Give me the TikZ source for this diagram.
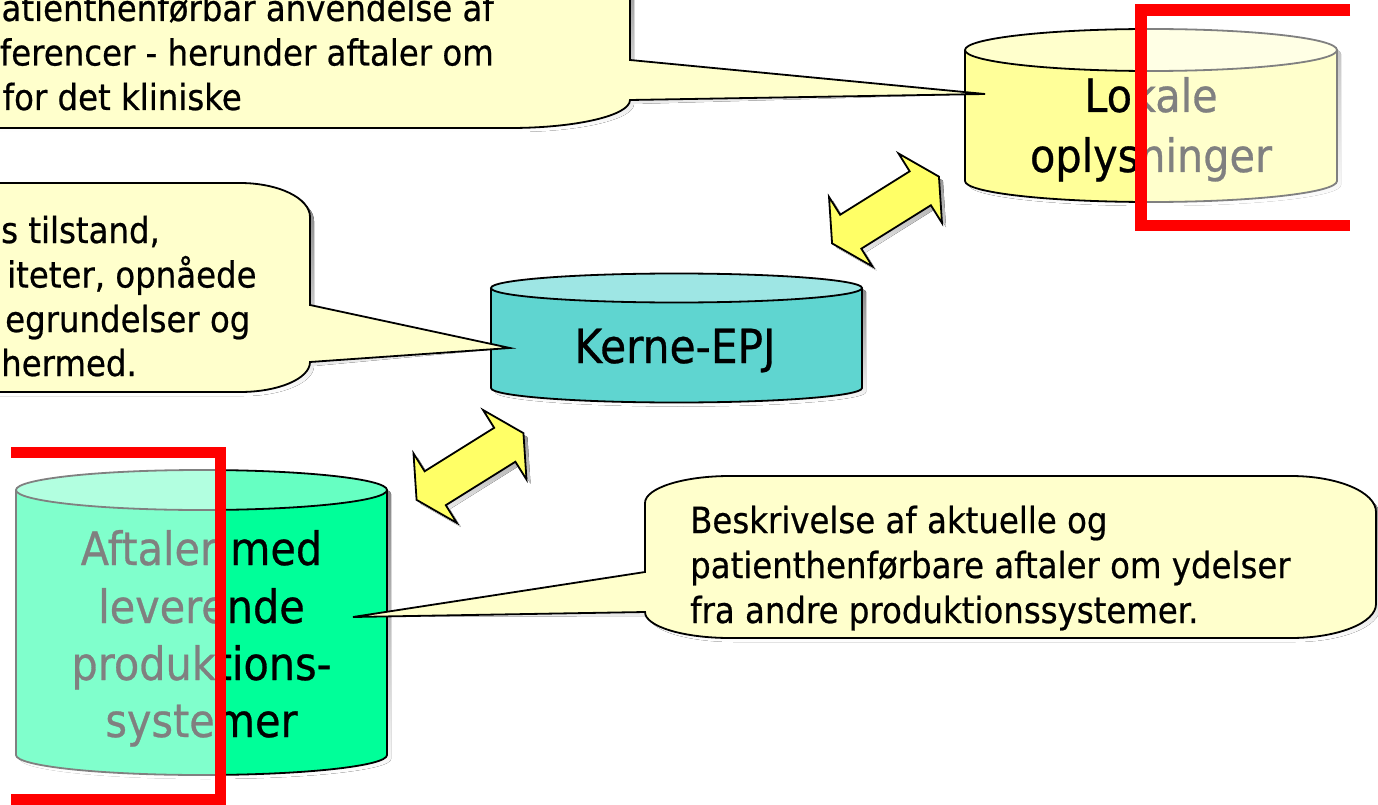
\documentclass[tikz,border=0pt]{standalone}
\usepackage{fontspec}
\setmainfont{DejaVu Sans}[FakeStretch=0.9, FakeBold=0.6]

\definecolor{note}{HTML}{FFFFCC}
\definecolor{lokbody}{HTML}{FFFF99}
\definecolor{loktop}{HTML}{FFFFCC}
\definecolor{kerbody}{HTML}{5FD5D0}
\definecolor{kertop}{HTML}{9EE6E4}
\definecolor{aftbody}{HTML}{00FF99}
\definecolor{afttop}{HTML}{66FFC2}
\definecolor{arrowyellow}{HTML}{FFFF66}
\definecolor{shade}{HTML}{808080}
\definecolor{bracketred}{HTML}{FF0000}

\tikzset{
  outline/.style={draw=black, line width=1.8pt, line join=miter},
  notetext/.style={font=\fontsize{36}{44.5}\selectfont, inner sep=0pt},
  drumtext/.style={font=\fontsize{46}{57}\selectfont, inner sep=0pt, anchor=base},
  fade/.style={fill=white, fill opacity=0.5},
  bracket/.style={draw=bracketred, line width=11.5pt, line cap=butt, line join=miter},
}

% database drum: left x, right x, top centre y, bottom centre y, x radius, y radius, body, lid
\newcommand\drum[8]{%
  \begin{scope}[shift={(4,4)}]
    \fill[shade] (#1,#3) arc[start angle=180,end angle=0,x radius=#5pt,y radius=#6pt]
      -- (#2,#4) arc[start angle=0,end angle=-180,x radius=#5pt,y radius=#6pt] -- cycle;
  \end{scope}
  \path[outline, fill=#7] (#1,#3) -- (#1,#4)
    arc[start angle=180,end angle=360,x radius=#5pt,y radius=#6pt] -- (#2,#3);
  \path[outline, fill=#8] ({(#1+#2)/2},#3) ellipse [x radius=#5pt, y radius=#6pt];
}

% two-headed block arrow outline, drawn about its centre
\newcommand\arrowoutline{(-63,0) -- (-41,41) -- (-41,20) -- (41,20) -- (41,41) -- (63,0)
  -- (41,-41) -- (41,-20) -- (-41,-20) -- (-41,-41) -- cycle}
\newcommand\twohead[2]{%
  \begin{scope}[shift={(#1+4,#2+4)}, rotate=32]
    \fill[shade] \arrowoutline;
  \end{scope}
  \begin{scope}[shift={(#1,#2)}, rotate=32]
    \path[outline, fill=arrowyellow] \arrowoutline;
  \end{scope}}

% callout outlines
\newcommand\noteone{(-60,-60) -- (630,-60) -- (630,60) -- (tip1) -- (630,100)
  arc[start angle=0,end angle=-90,x radius=120pt,y radius=28pt] -- (-60,128) -- cycle}
\newcommand\notetwo{(-60,183) -- (240,183)
  arc[start angle=90,end angle=0,x radius=70pt,y radius=34pt] -- (310,305) -- (tip2) -- (310,362)
  arc[start angle=0,end angle=-90,x radius=70pt,y radius=30pt] -- (-60,392) -- cycle}
\newcommand\notethree{(730,476) -- (1291,476)
  arc[start angle=90,end angle=0,x radius=85pt,y radius=36pt] -- (1376,604)
  arc[start angle=0,end angle=-90,x radius=85pt,y radius=34pt] -- (730,638)
  arc[start angle=270,end angle=180,x radius=85pt,y radius=26pt] -- (645,612) -- (tip3) -- (645,572)
  -- (645,503) arc[start angle=180,end angle=90,x radius=85pt,y radius=27pt] -- cycle}

\begin{document}
\begin{tikzpicture}[x=1pt, y=-1pt]
  \useasboundingbox (0,0) rectangle (1378,805);
  \fill[white] (0,0) rectangle (1378,805);
  \clip (0,0) rectangle (1378,805);

  % anchor points of the three stores and where the callouts point
  \coordinate (lokale) at (1151,115);
  \coordinate (kerne) at (676,338);
  \coordinate (aftaler) at (201.5,622);
  \coordinate (tip1) at (985,94);
  \coordinate (tip2) at (510,348);
  \coordinate (tip3) at (353,617);

  % the three stores
  \drum{965}{1337}{50}{181}{186}{21}{lokbody}{loktop}
  \drum{491}{862}{288}{388}{185.5}{14.5}{kerbody}{kertop}
  \drum{16}{387}{490}{755}{185.5}{20}{aftbody}{afttop}

  % callouts
  \begin{scope}[shift={(4,4)}]
    \fill[shade] \noteone;
    \fill[shade] \notetwo;
    \fill[shade] \notethree;
  \end{scope}
  \path[outline, fill=note] \noteone;
  \path[outline, fill=note] \notetwo;
  \path[outline, fill=note] \notethree;

  % exchange arrows
  \twohead{885.5}{210}
  \twohead{470}{466.5}

  % callout texts
  \node[notetext, anchor=base east] (n1a) at (494,21) {patienthenførbar anvendelse af};
  \node[notetext, anchor=base east] (n1b) at (494,65.5) {ferencer - herunder aftaler om};
  \node[notetext, anchor=base east] (n1c) at (242,110) {for det kliniske};

  \node[notetext, anchor=base west] (n2a) at (1,243) {s tilstand,};
  \node[notetext, anchor=base west] (n2b) at (7,287.5) {iteter, opnåede};
  \node[notetext, anchor=base west] (n2c) at (5,332) {egrundelser og};
  \node[notetext, anchor=base west] (n2d) at (1,376) {hermed.};

  \node[notetext, anchor=base west] (n3a) at (690,533) {Beskrivelse af aktuelle og};
  \node[notetext, anchor=base west] (n3b) at (690,578) {patienthenførbare aftaler om ydelser};
  \node[notetext, anchor=base west] (n3c) at (690,623) {fra andre produktionssystemer.};

  % store labels
  \node[drumtext] (lok1) at (1151,112) {Lokale};
  \node[drumtext] (lok2) at (1151,172) {oplysninger};
  \node[drumtext, font=\fontsize{47}{57}\selectfont] (ker) at (675,363) {Kerne-EPJ};
  \node[drumtext] (aft1) at (201.5,565) {Aftaler med};
  \node[drumtext] (aft2) at (201.5,623) {leverende};
  \node[drumtext] (aft3) at (201.5,680) {produktions-};
  \node[drumtext] (aft4) at (201.5,737) {systemer};

  % faded regions and red brackets
  \fill[fade] (1141,10) rectangle (1350,225.5);
  \fill[fade] (11,452.5) rectangle (220.5,800);
  \draw[bracket] (1350,10) -- (1141,10) -- (1141,225.5) -- (1350,225.5);
  \draw[bracket] (11,452.5) -- (220.5,452.5) -- (220.5,800) -- (11,800);
\end{tikzpicture}
\end{document}
